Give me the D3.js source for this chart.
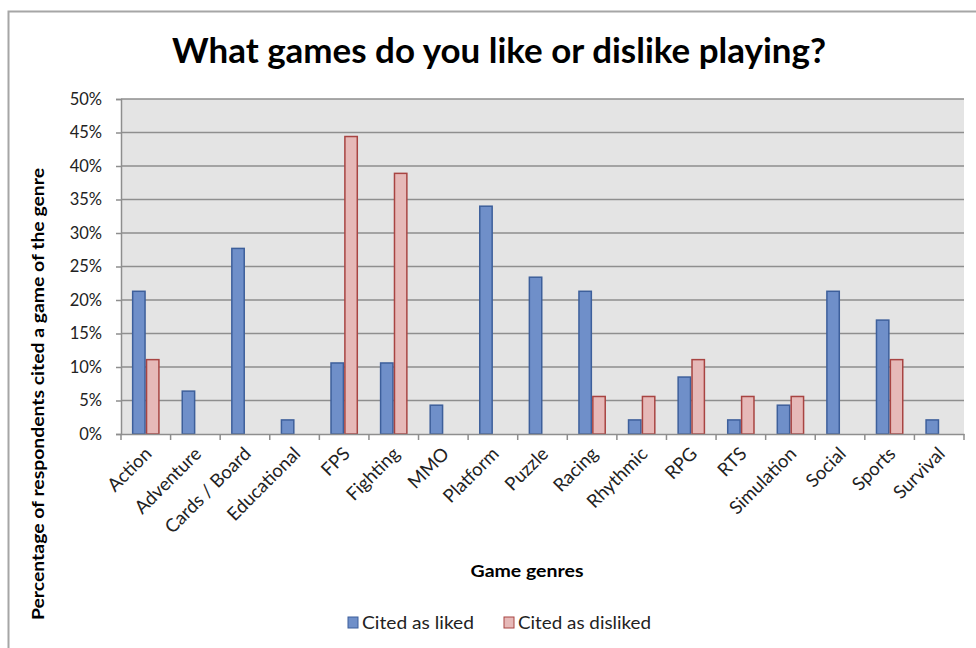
<!DOCTYPE html>
<html>
<head>
<meta charset="utf-8">
<script src="https://cdn.jsdelivr.net/npm/d3@7"></script>
<style>
  body { margin: 0; background: #fff; }
  text { font-family: Lato, "Open Sans", sans-serif; }
</style>
</head>
<body>
<div id="chart"></div>
<script>
// genre categories
const genres = ["Action", "Adventure", "Cards / Board", "Educational", "FPS", "Fighting", "MMO",
    "Platform", "Puzzle", "Racing", "Rhythmic", "RPG", "RTS", "Simulation", "Social", "Sports", "Survival"];
// % of respondents citing the genre as liked / disliked
const liked = [21.3, 6.4, 27.7, 2.1, 10.6, 10.6, 4.3, 34.0, 23.4, 21.3, 2.1, 8.5, 2.1, 4.3, 21.3, 17.0, 2.1];
const disliked = [11.1, 0, 0, 0, 44.4, 38.9, 0, 0, 0, 5.6, 5.6, 11.1, 5.6, 5.6, 0, 11.1, 0];
const seriesNames = ["Cited as liked", "Cited as disliked"];
const yTicks = [0, 5, 10, 15, 20, 25, 30, 35, 40, 45, 50];

var width = 976, height = 648;
var margin = { top: 99, right: 12, bottom: 214, left: 121 };
var plotW = width - margin.left - margin.right,
    plotH = height - margin.top - margin.bottom;

var svg = d3.select("#chart").append("svg")
    .attr("width", width)
    .attr("height", height);

// outer chart frame (runs off the right and bottom edge)
svg.append("path")
    .attr("d", "M8.5," + (height + 5) + "V11.5H" + (width + 5))
    .attr("fill", "none")
    .attr("stroke", "#a6a6a6")
    .attr("stroke-width", 2);

svg.append("text")
    .attr("x", 499).attr("y", 63)
    .attr("text-anchor", "middle")
    .attr("textLength", 654)
    .attr("lengthAdjust", "spacingAndGlyphs")
    .style("font-size", "34px")
    .style("font-weight", "bold")
    .text("What games do you like or dislike playing?");

var g = svg.append("g").attr("transform", "translate(" + margin.left + "," + margin.top + ")");

var x0 = d3.scaleBand().domain(genres).range([0, plotW]);
var x1 = d3.scaleBand().domain(seriesNames)
    .range([x0.bandwidth() * 0.22, x0.bandwidth() * 0.78]);
var y = d3.scaleLinear().domain([0, 50]).range([plotH, 0]);

// plot background
g.append("rect")
    .attr("width", plotW).attr("height", plotH)
    .attr("fill", "#e4e4e4");

// gridlines
g.selectAll(".grid")
    .data(yTicks.slice(1))
    .enter().append("line")
    .attr("x1", 0).attr("x2", plotW)
    .attr("y1", d => y(d)).attr("y2", d => y(d))
    .attr("stroke", "#8e8e8e")
    .attr("stroke-width", 1.5);

// bars
var fills = ["#6f8fc9", "#e6b9b8"], strokes = ["#3d5f9b", "#a84442"];
var rows = genres.map((gname, i) => ({ genre: gname, vals: [liked[i], disliked[i]] }));

var groups = g.selectAll(".grp")
    .data(rows)
    .enter().append("g")
    .attr("transform", d => "translate(" + x0(d.genre) + ",0)");

groups.selectAll("rect")
    .data(d => d.vals.map((v, k) => ({ k: k, v: v })).filter(e => e.v > 0))
    .enter().append("rect")
    .attr("x", d => x1(seriesNames[d.k]) + 0.75)
    .attr("width", x1.bandwidth() - 1.5)
    .attr("y", d => y(d.v))
    .attr("height", d => plotH - y(d.v))
    .attr("fill", d => fills[d.k])
    .attr("stroke", d => strokes[d.k])
    .attr("stroke-width", 1.5);

// y axis
var yAxis = g.append("g")
    .call(d3.axisLeft(y).tickValues(yTicks).tickFormat(d => d + "%").tickSize(5).tickPadding(14));
yAxis.select(".domain").attr("stroke", "#8e8e8e").attr("stroke-width", 1.5);
yAxis.selectAll(".tick line").attr("stroke", "#8e8e8e").attr("stroke-width", 1.5);
yAxis.selectAll(".tick text")
    .style("font-size", "16.5px").style("font-family", "Lato, sans-serif").attr("fill", "#222");

// x axis
var xAxis = g.append("g")
    .attr("transform", "translate(0," + plotH + ")")
    .call(d3.axisBottom(x0).tickSize(0).tickPadding(0));
xAxis.select(".domain").attr("stroke", "#8e8e8e").attr("stroke-width", 1.5);
xAxis.selectAll(".tick text")
    .style("font-size", "18.5px").style("font-family", "Lato, sans-serif").attr("fill", "#222")
    .attr("text-anchor", "end")
    .attr("dy", 0).attr("y", 0)
    .attr("transform", "translate(7,21) rotate(-45)");

// category boundary ticks
xAxis.selectAll(".sep")
    .data(d3.range(genres.length + 1))
    .enter().append("line")
    .attr("x1", i => i * x0.step()).attr("x2", i => i * x0.step())
    .attr("y1", 0).attr("y2", 6)
    .attr("stroke", "#8e8e8e").attr("stroke-width", 1.5);

// axis titles
svg.append("text")
    .attr("x", 527).attr("y", 577)
    .attr("text-anchor", "middle")
    .attr("textLength", 113)
    .attr("lengthAdjust", "spacingAndGlyphs")
    .style("font-size", "17px").style("font-weight", "bold")
    .text("Game genres");

svg.append("text")
    .attr("transform", "translate(44,394) rotate(-90)")
    .attr("text-anchor", "middle")
    .attr("textLength", 452)
    .attr("lengthAdjust", "spacingAndGlyphs")
    .style("font-size", "17px").style("font-weight", "bold")
    .text("Percentage of respondents cited a game of the genre");

// legend
var legendX = [348, 504];
var legendW = [112, 133];
var leg = svg.selectAll(".leg")
    .data(seriesNames)
    .enter().append("g")
    .attr("transform", (d, i) => "translate(" + legendX[i] + ",617)");
leg.append("rect")
    .attr("width", 10).attr("height", 11)
    .attr("fill", (d, i) => fills[i])
    .attr("stroke", (d, i) => strokes[i]);
leg.append("text")
    .attr("x", 14).attr("y", 12)
    .attr("textLength", (d, i) => legendW[i])
    .attr("lengthAdjust", "spacingAndGlyphs")
    .style("font-size", "18px").attr("fill", "#222")
    .text(d => d);
</script>
</body>
</html>
